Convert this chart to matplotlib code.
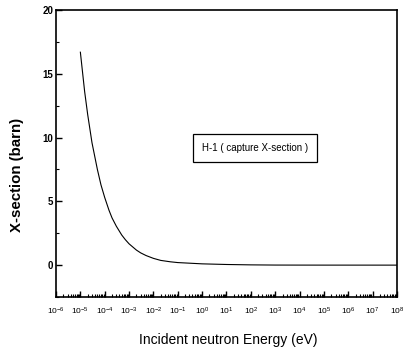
import matplotlib
matplotlib.use("Agg")
import matplotlib.pyplot as plt
from matplotlib.ticker import LogLocator, MultipleLocator, NullFormatter

plt.rcParams['font.family'] = ['Liberation Sans', 'DejaVu Sans']

# Values (H-1 capture cross-section)
energy_ev = [1e-5, 1.5e-5, 2e-5, 3e-5, 5e-5, 7e-5, 1e-4, 1.5e-4, 2e-4, 3e-4,
             5e-4, 7e-4, 1e-3, 2e-3, 3e-3, 5e-3, 1e-2, 2e-2, 5e-2, 1e-1,
             1e0, 1e1, 1e2, 1e3, 1e4, 1e5, 1e6, 1e7, 1e8]
xsec_barn = [16.7, 13.6, 11.8, 9.6, 7.5, 6.3, 5.3, 4.3, 3.7, 3.05,
             2.36, 2.0, 1.67, 1.18, 0.96, 0.75, 0.53, 0.37, 0.26, 0.2,
             0.1, 0.05, 0.02, 0.005, 0.002, 0.0005, 0.0002, 0.0, 0.0]

fig = plt.figure(figsize=(4.03, 3.49), dpi=100)
ax = fig.add_axes([0.139, 0.149, 0.846, 0.822])

ax.plot(energy_ev, xsec_barn, color='black', lw=0.8)

ax.set_xscale('log')
ax.set_xlim(1e-6, 1e8)
ax.set_ylim(-2.5, 20)

ax.xaxis.set_major_locator(LogLocator(base=10, numticks=20))
ax.xaxis.set_minor_locator(LogLocator(base=10, subs=range(2, 10), numticks=200))
ax.xaxis.set_minor_formatter(NullFormatter())
ax.yaxis.set_major_locator(MultipleLocator(5))
ax.yaxis.set_minor_locator(MultipleLocator(2.5))

ax.tick_params(which='both', direction='in', top=False, right=False)
ax.tick_params(which='major', length=4, width=1.0)
ax.tick_params(which='minor', length=2, width=0.8)
ax.tick_params(axis='x', labelsize=6, pad=6)
ax.tick_params(axis='y', labelsize=7, pad=2)
for lbl in ax.get_yticklabels():
    lbl.set_fontweight('bold')
for sp in ax.spines.values():
    sp.set_linewidth(1.2)

# axis titles placed like the reference (y title sits lower than centre)
fig.text(0.566, 0.026, 'Incident neutron Energy (eV)', fontsize=10,
         ha='center', va='center')
fig.text(0.042, 0.499, 'X-section (barn)', fontsize=10.8, fontweight='bold',
         rotation=90, ha='center', va='center')

ax.text(0.584, 0.519, 'H-1 ( capture X-section )', transform=ax.transAxes,
        ha='center', va='center', fontsize=7,
        bbox=dict(boxstyle='square,pad=0.9', fc='white', ec='black', lw=0.9))

fig.savefig('out.png', dpi=100)
